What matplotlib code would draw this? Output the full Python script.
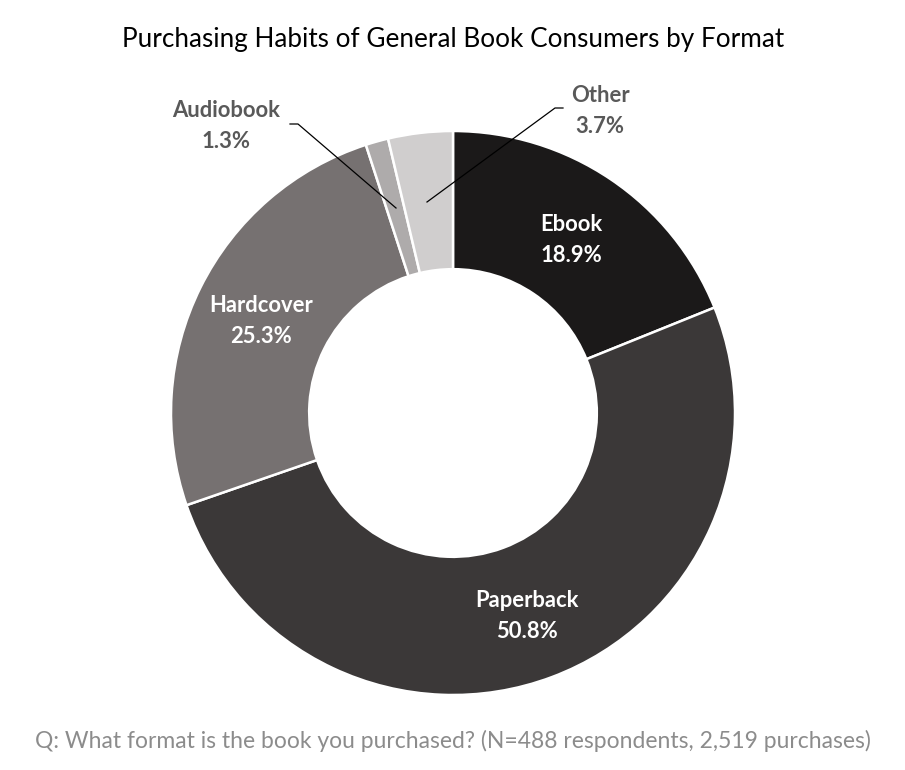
import matplotlib
matplotlib.use("Agg")
import matplotlib.pyplot as plt

categories = ["Ebook", "Paperback", "Hardcover", "Audiobook", "Other"]
shares = [18.9, 50.8, 25.3, 1.3, 3.7]
colors = ["#1b1919", "#3b3838", "#767171", "#aeabab", "#d0cece"]
title = "Purchasing Habits of General Book Consumers by Format"
note = "Q: What format is the book you purchased? (N=488 respondents, 2,519 purchases)"

plt.rcParams['font.family'] = ['Lato', 'DejaVu Sans']

W, H = 905, 770
fig = plt.figure(figsize=(W / 100, H / 100), dpi=100)
ax = fig.add_axes([0, 0, 1, 1])
ax.set_xlim(0, W)
ax.set_ylim(0, H)
ax.axis('off')

cx, cy, R = 453, H - 413, 282
wedges, _ = ax.pie(shares, colors=colors, startangle=90, counterclock=False,
                   radius=R, center=(cx, cy),
                   wedgeprops=dict(width=R * 0.49, edgecolor='white', linewidth=1.8))
ax.set_xlim(0, W)
ax.set_ylim(0, H)

def lab(x, y, name, val, color):
    ax.text(x, H - y, f"{name}\n{val:.1f}%", ha='center', va='center', color=color,
            fontsize=15.8, fontweight='bold', linespacing=1.6)

lab(571, 240, categories[0], shares[0], 'white')
lab(527, 616, categories[1], shares[1], 'white')
lab(261, 321, categories[2], shares[2], 'white')
lab(226, 126, categories[3], shares[3], '#595959')
lab(600, 111, categories[4], shares[4], '#595959')

# leader lines
ax.plot([290, 298, 396], [H - 124, H - 124, H - 208], color='black', lw=0.9)
ax.plot([563, 555, 427], [H - 108, H - 108, H - 202], color='black', lw=0.9)

fig.text(453 / W, 1 - 40 / H, title, ha='center', va='center', fontsize=18.8, color='black')
fig.text(453 / W, 1 - 741 / H, note, ha='center', va='center', fontsize=16.5, color='#8c8c8c')

fig.savefig("out.png", dpi=100)
